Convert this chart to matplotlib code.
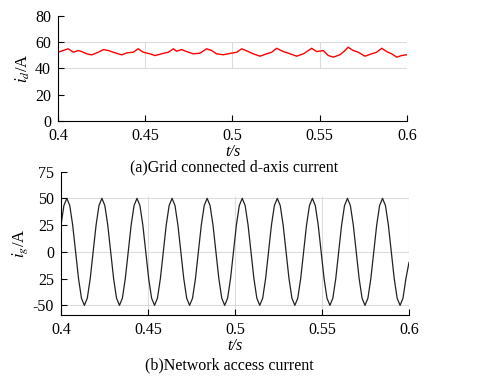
import numpy as np
import matplotlib
matplotlib.use('Agg')
import matplotlib.pyplot as plt

plt.rcParams['font.family'] = 'Liberation Serif'
plt.rcParams['mathtext.fontset'] = 'stix'

# (a) grid connected d-axis current
t_d = [0.4000, 0.4059, 0.4088, 0.4116, 0.4136, 0.4164, 0.4193, 0.4231, 0.4260, 0.4289,
       0.4317, 0.4346, 0.4365, 0.4394, 0.4431, 0.4460, 0.4489, 0.4527, 0.4556, 0.4594,
       0.4632, 0.4661, 0.4680, 0.4709, 0.4737, 0.4775, 0.4814, 0.4852, 0.4881, 0.4909,
       0.4947, 0.4995, 0.5024, 0.5053, 0.5091, 0.5119, 0.5158, 0.5196, 0.5225, 0.5253,
       0.5291, 0.5320, 0.5368, 0.5406, 0.5454, 0.5482, 0.5520, 0.5549, 0.5578, 0.5616,
       0.5645, 0.5663, 0.5692, 0.5721, 0.5759, 0.5797, 0.5826, 0.5855, 0.5883, 0.5912,
       0.5941, 0.5969, 0.6000]
i_d = [52.2, 54.8, 52.2, 53.5, 52.7, 51.0, 50.2, 52.2, 54.2, 53.5,
       52.2, 51.0, 50.2, 51.7, 52.2, 54.8, 52.2, 51.0, 49.7, 51.0,
       52.2, 54.8, 53.0, 54.2, 52.7, 51.0, 51.5, 54.8, 53.5, 51.0,
       50.3, 51.5, 52.2, 54.8, 52.7, 51.0, 49.2, 51.0, 52.2, 55.2,
       52.7, 51.5, 49.2, 51.0, 55.2, 52.7, 53.5, 49.7, 48.5, 50.3,
       53.5, 56.0, 53.5, 52.2, 49.2, 51.0, 52.2, 55.2, 52.7, 51.0,
       48.5, 49.7, 50.3]

# (b) network access current, samples read every ~1/12 cycle
t_step = 0.00168
i_g = [25, 43.3, 50, 43.3, 25, 0, -25, -43.3, -50, -43.3, -25, 0,
       25, 43.3, 50, 43.3, 25, 0, -25, -43.3, -50, -43.3, -25, 0,
       25, 43.3, 50, 43.3, 25, 0, -25, -43.3, -50, -43.3, -25, 0,
       25, 43.3, 50, 43.3, 25, 0, -25, -43.3, -50, -43.3, -25, 0,
       25, 43.3, 50, 43.3, 25, 0, -25, -43.3, -50, -43.3, -25, 0,
       25, 43.3, 50, 43.3, 25, 0, -25, -43.3, -50, -43.3, -25, 0,
       25, 43.3, 50, 43.3, 25, 0, -25, -43.3, -50, -43.3, -25, 0,
       25, 43.3, 50, 43.3, 25, 0, -25, -43.3, -50, -43.3, -25, 0,
       25, 43.3, 50, 43.3, 25, 0, -25, -43.3, -50, -43.3, -25, 0,
       25, 43.3, 50, 43.3, 25, 0, -25, -43.3, -50, -43.3, -25, -10]
t_g = [0.4 + k * t_step for k in range(len(i_g))]
t_g[-1] = 0.6

x_ticks = [0.4, 0.45, 0.5, 0.55, 0.6]
x_labels = ['0.4', '0.45', '0.5', '0.55', '0.6']
yd_ticks = [0, 20, 40, 60, 80]
yg_ticks = [-50, -25, 0, 25, 50, 75]
yg_labels = ['-50', '25', '0', '25', '50', '75']

fig = plt.figure(figsize=(4.78, 3.84), dpi=100)
ax1 = fig.add_axes([0.1213, 0.6844, 0.7302, 0.2752])
ax2 = fig.add_axes([0.1276, 0.1797, 0.7280, 0.3734])

grid_c = '#dcdcdc'

# top panel
ax1.hlines([40, 60], 0.4, 0.6, color=grid_c, lw=0.8, zorder=0)
ax1.vlines(x_ticks[1:], 40, 60, color=grid_c, lw=0.8, zorder=0)
ax1.plot(t_d, i_d, color='red', lw=1.0)
ax1.set_xlim(0.4, 0.6)
ax1.set_ylim(0, 80)
ax1.set_yticks(yd_ticks)
ax1.set_ylabel(r'$i_d$/A', fontsize=12, labelpad=2)

# bottom panel
ax2.hlines([-50, 0, 50], 0.4, 0.6, color=grid_c, lw=0.8, zorder=0)
ax2.vlines(x_ticks[1:], -52, 52, color=grid_c, lw=0.8, zorder=0)
ax2.plot(t_g, i_g, color='#222222', lw=0.9)
ax2.set_xlim(0.4, 0.6)
ax2.set_ylim(-59, 75)
ax2.set_yticks(yg_ticks)
ax2.set_yticklabels(yg_labels)
ax2.set_ylabel(r'$i_g$/A', fontsize=12, labelpad=2)

for ax in (ax1, ax2):
    ax.spines['top'].set_visible(False)
    ax.spines['right'].set_visible(False)
    ax.set_xticks(x_ticks)
    ax.set_xticklabels(x_labels)
    ax.tick_params(direction='in', length=4, labelsize=11.5, pad=5)
    ax.set_xlabel('t/s', fontsize=11.5, style='italic', labelpad=0)

fig.text(0.49, 0.565, '(a)Grid connected d-axis current', ha='center', va='center', fontsize=11.5)
fig.text(0.48, 0.049, '(b)Network access current', ha='center', va='center', fontsize=11.5)

fig.savefig('out.png', dpi=100)
